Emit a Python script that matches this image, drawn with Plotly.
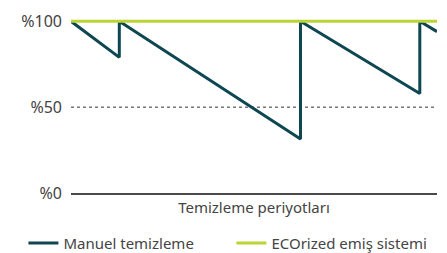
import plotly.graph_objects as go

# Data
manual_x = [0, 13.2, 13.2, 62.7, 62.7, 95.3, 95.3, 100]
manual_y = [100, 79, 100, 31.5, 100, 58, 100, 94]
eco_x = [0, 100]
eco_y = [100, 100]
tick_vals = [0, 50, 100]
tick_text = ["%0", "%50", "%100"]
x_title = "Temizleme periyotları"
names = ["Manuel temizleme", "ECOrized emiş sistemi"]

TXT = "#444444"
FONT = "Noto Sans"

fig = go.Figure()
fig.add_trace(go.Scatter(x=manual_x, y=manual_y, mode="lines", name=names[0],
                         line=dict(color="#0e4751", width=3), cliponaxis=False))
fig.add_trace(go.Scatter(x=eco_x, y=eco_y, mode="lines", name=names[1],
                         line=dict(color="#b9d433", width=3), cliponaxis=False))

fig.add_shape(type="line", xref="x", yref="y", x0=0, x1=100, y0=50, y1=50,
              line=dict(color="#333333", width=1, dash="dot"), layer="below")

fig.update_layout(
    width=439, height=245,
    margin=dict(l=63, r=10, t=3, b=60, autoexpand=False),
    paper_bgcolor="white", plot_bgcolor="white",
    font=dict(family=FONT, size=15, color=TXT),
    showlegend=True,
    legend=dict(orientation="h", x=-0.13, y=-0.185, xanchor="left", yanchor="top",
                entrywidth=163, font=dict(size=15, color=TXT),
                itemwidth=30, tracegroupgap=0),
    xaxis=dict(range=[0, 100], showgrid=False, zeroline=False, showticklabels=False,
               showline=True, linecolor="#4a4a4a", linewidth=1.5, ticks="",
               automargin=False,
               title=dict(text=x_title, standoff=9, font=dict(size=15, color=TXT))),
    yaxis=dict(range=[0, 106], showgrid=False, zeroline=False, showline=False,
               automargin=False,
               tickvals=tick_vals, ticktext=tick_text, ticks="", ticklabelstandoff=8,
               tickfont=dict(size=16, color=TXT)),
)

fig.write_html("out.html")
